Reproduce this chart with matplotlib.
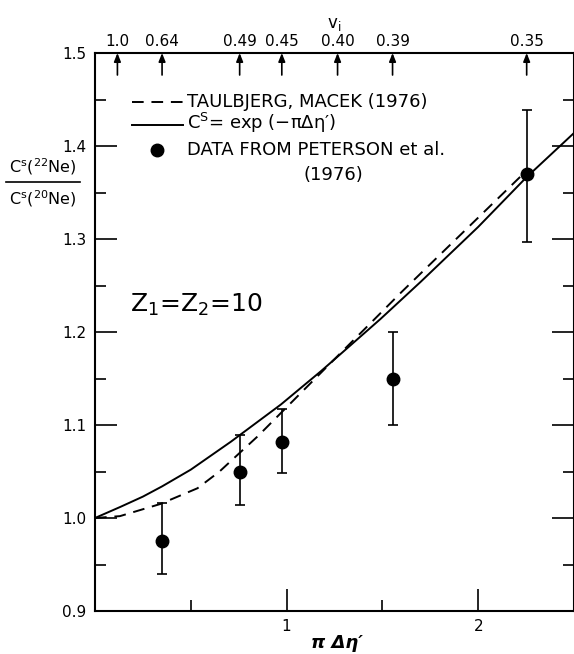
import matplotlib
matplotlib.use("Agg")
import matplotlib.pyplot as plt
import matplotlib.transforms as mtransforms

plt.rcParams['font.family'] = 'DejaVu Sans'
plt.rcParams['mathtext.default'] = 'regular'

# solid curve  C^s = exp(-pi d eta')
solid_x = [0.0, 0.133, 0.25, 0.35, 0.5, 0.709, 0.97, 1.18, 1.28, 1.49, 1.7, 2.0, 2.25, 2.5]
solid_y = [1.0, 1.012, 1.023, 1.034, 1.052, 1.082, 1.122, 1.158, 1.176, 1.214, 1.254, 1.313, 1.366, 1.414]

# dashed curve  Taulbjerg, Macek (1976)
dash_x = [0.0, 0.13, 0.34, 0.535, 0.65, 0.755, 0.85, 0.99, 1.28, 1.455, 1.6, 1.7, 2.0, 2.22]
dash_y = [1.0, 1.002, 1.015, 1.032, 1.050, 1.070, 1.088, 1.117, 1.177, 1.213, 1.243, 1.263, 1.323, 1.367]

# Peterson et al. (1976)
pt_x = [0.35, 0.755, 0.975, 1.553, 2.253]
pt_y = [0.975, 1.050, 1.082, 1.150, 1.370]
pt_lo = [0.940, 1.014, 1.048, 1.100, 1.297]
pt_hi = [1.016, 1.089, 1.117, 1.200, 1.439]

# top axis: v_i
vi_pos = [0.117, 0.35, 0.755, 0.975, 1.266, 1.553, 2.253]
vi_labels = ["1.0", "0.64", "0.49", "0.45", "0.40", "0.39", "0.35"]

fig = plt.figure(figsize=(5.74, 6.54), dpi=100)
ax = fig.add_axes([95 / 574, 1 - 611 / 654, 479 / 574, 558 / 654])

ax.plot(solid_x, solid_y, color='black', lw=1.4)
ax.plot(dash_x, dash_y, color='black', lw=1.4, dashes=(6, 4))
yerr = [[y - l for y, l in zip(pt_y, pt_lo)], [h - y for y, h in zip(pt_y, pt_hi)]]
ax.errorbar(pt_x, pt_y, yerr=yerr, fmt='o', color='black', ms=9,
            elinewidth=1.2, capsize=3.5, capthick=1.2)

ax.set_xlim(0, 2.5)
ax.set_ylim(0.9, 1.5)
ax.set_xticks([1, 2])
ax.set_xticklabels(["1", "2"])
ax.set_xticks([0.5, 1.5], minor=True)
ax.set_yticks([0.9, 1.0, 1.1, 1.2, 1.3, 1.4, 1.5])
ax.set_yticklabels(["0.9", "1.0", "1.1", "1.2", "1.3", "1.4", "1.5"])
ax.set_yticks([0.95, 1.05, 1.15, 1.25, 1.35, 1.45], minor=True)
ax.tick_params(which='both', direction='in', top=True, right=True,
               labelsize=11, width=1.2)
ax.tick_params(which='major', length=15.5, pad=6)
ax.tick_params(which='minor', length=8)
for s in ax.spines.values():
    s.set_linewidth(1.5)

# x label
fig.text(337 / 574, 1 - 643 / 654, "π Δη′", fontsize=13, fontweight='bold',
         style='italic', ha='center', va='center')

# top axis labels + arrows
ax2 = ax.twiny()
ax2.set_xlim(ax.get_xlim())
ax2.set_xticks(vi_pos)
ax2.set_xticklabels(vi_labels, fontsize=11)
ax2.tick_params(length=0, pad=3)
for s in ax2.spines.values():
    s.set_visible(False)
ax2.set_xlabel(r"v$_i$", fontsize=12, labelpad=4)

trans = mtransforms.blended_transform_factory(ax.transData, ax.transAxes)
for xv in vi_pos:
    ax.annotate("", xy=(xv, 1.0), xycoords=trans,
                xytext=(xv, 1.0 - 22 / 558), textcoords=trans,
                arrowprops=dict(arrowstyle='-|>,head_length=0.5,head_width=0.2',
                                color='black', lw=1.2, shrinkA=0, shrinkB=0))

# legend drawn by hand
def ax_xy(px, py):
    return (px - 95) / 479, (611 - py) / 558

x0, y0 = ax_xy(132, 102)
x1, _ = ax_xy(183, 102)
ax.plot([x0, x1], [y0, y0], transform=ax.transAxes, color='black', lw=1.4, dashes=(6, 4))
tx, _ = ax_xy(187, 0)
ax.text(tx, y0, "TAULBJERG, MACEK (1976)", transform=ax.transAxes,
        fontsize=13, va='center', ha='left')
_, y1 = ax_xy(0, 125)
ax.plot([x0, x1], [y1, y1], transform=ax.transAxes, color='black', lw=1.4)
ax.text(tx, y1 + 0.004, r"C$^{S}$= exp (−πΔη′)", transform=ax.transAxes,
        fontsize=13, va='center', ha='left')
mx, y2 = ax_xy(157, 150)
ax.plot([mx], [y2], 'o', color='black', ms=9, transform=ax.transAxes)
ax.text(tx, y2, "DATA FROM PETERSON et al.", transform=ax.transAxes,
        fontsize=13, va='center', ha='left')
cx, y3 = ax_xy(333, 175)
ax.text(cx, y3, "(1976)", transform=ax.transAxes, fontsize=13, va='center', ha='center')

zx, zy = ax_xy(130, 305)
ax.text(zx, zy, r"Z$_1$=Z$_2$=10", transform=ax.transAxes, fontsize=18,
        va='center', ha='left')

# y label as fraction
fig.text(43 / 574, 1 - 167 / 654, r"C$^{s}$($^{22}$Ne)", fontsize=11.5,
         ha='center', va='center')
fig.text(43 / 574, 1 - 199 / 654, r"C$^{s}$($^{20}$Ne)", fontsize=11.5,
         ha='center', va='center')
fig.add_artist(plt.Line2D([6 / 574, 80 / 574], [1 - 182 / 654, 1 - 182 / 654],
                          color='black', lw=1.2))

fig.savefig("out.png", dpi=100)
